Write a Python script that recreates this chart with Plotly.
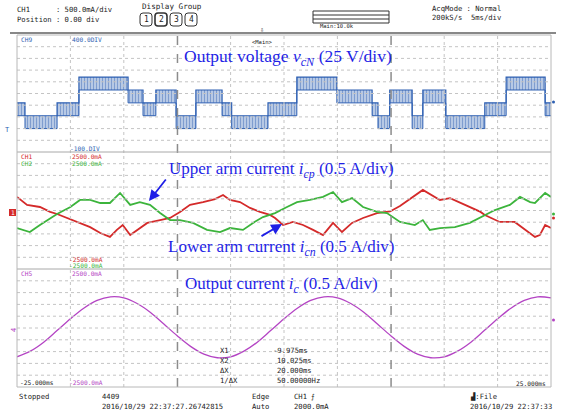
import plotly.graph_objects as go
from plotly.subplots import make_subplots

W, H = 564, 418
L, R, T, B = 17, 551, 35, 387  # plot area in pixels

# ---- Output voltage vcN : PWM bands (time in ms, levels in V) ----
seg_t = [-25.0, -24.25, -21.25, -19.2, -14.6, -13.2, -12.0, -10.1, -8.25, -5.8, -4.9,
         -1.5, 1.2, 4.95, 8.25, 8.8, 9.9, 12.0, 13.0, 15.15, 18.8, 20.8, 24.45, 25.0]
seg_lo = [55, 0, 55, 165, 110, 55, 110, 0, 110, 55, 0, 55, 165, 110, 55, 0, 110, 0, 110, 0, 55, 165, 55]
seg_hi = [110, 55, 110, 220, 165, 110, 165, 55, 165, 110, 55, 110, 220, 165, 110, 55, 165, 55, 165, 55, 110, 220, 110]

# ---- Arm currents (A) ----
icn_t = [-25.0, -24.06, -22.85, -21.9, -21.25, -20.3, -19.4, -18.15, -17.2, -16.3, -15.65, -15.1,
         -14.4, -13.75, -12.8, -11.6, -10.67, -9.74, -8.8, -7.58, -6.46, -5.71, -5.06, -4.12,
         -3.18, -2.25, -1.31, -0.84, -0.09, 0.84, 1.78, 2.72, 3.65, 4.59, 5.43, 6.37, 7.40,
         8.71, 9.93, 10.86, 13.0, 14.6, 15.55, 16.95, 18.4, 18.8, 20.2, 21.6, 22.55, 23.5,
         23.95, 24.45, 25.0]
icn_v = [0.58, 0.24, 0.15, -0.06, -0.15, -0.32, -0.49, -0.71, -0.96, -1.13, -0.83, -0.62,
         -1.05, -0.83, -0.53, -0.41, -0.32, -0.06, 0.24, 0.36, 0.49, 0.66, 0.45, 0.36,
         0.11, -0.06, -0.19, -0.32, -0.62, -0.49, -0.62, -0.83, -1.05, -0.53, -0.92, -0.53, -0.32,
         -0.11, -0.04, 0.19, 0.88, 0.45, 0.53, 0.24, -0.06, -0.19, -0.49, -0.49, -0.83, -1.13,
         -1.05, -0.62, -0.75]

icp_t = [-25.0, -23.8, -22.85, -21.25, -20.0, -19.1, -18.15, -17.2, -16.3, -15.35, -14.4, -13.5,
         -12.55, -11.6, -10.67, -9.74, -8.52, -7.21, -5.99, -5.06, -3.84, -2.9, -1.97, -0.84,
         0.28, 1.22, 2.43, 3.65, 4.59, 5.43, 6.37, 7.40, 8.71, 9.64, 10.86, 12.25, 13.0, 13.65,
         14.6, 16.0, 17.4, 18.8, 19.75, 21.15, 22.1, 23.05, 23.5, 24.45, 25.0]
icp_v = [-0.75, -0.92, -0.62, -0.15, 0.15, 0.45, 0.45, 0.32, 0.32, 0.75, 0.24, 0.36,
         0.24, -0.11, -0.41, -0.41, -0.53, -0.83, -0.92, -0.75, -0.83, -0.53, -0.28, -0.11,
         0.15, 0.36, 0.45, 0.58, 0.79, 0.36, 0.53, 0.15, -0.06, -0.11, -0.49, -0.62, -0.41, -0.83,
         -0.75, -0.71, -0.53, -0.19, 0.02, 0.24, 0.58, 0.36, 0.32, 0.75, 0.58]

# ---- Output current ic (A), sampled every 1.25 ms ----
ic_t = [-25 + 1.25 * k for k in range(41)]
ic_v = [-1.22, -0.98, -0.60, -0.11, 0.39, 0.84, 1.17, 1.32, 1.28, 1.04, 0.66, 0.17, -0.33,
        -0.78, -1.11, -1.26, -1.22, -0.98, -0.60, -0.11, 0.39, 0.84, 1.17, 1.32, 1.28, 1.04,
        0.66, 0.17, -0.33, -0.78, -1.11, -1.26, -1.22, -0.98, -0.60, -0.11, 0.39, 0.84, 1.17,
        1.32, 1.28]

BLUE = "#2d5fb2"
RED = "#d42a2a"
GREEN = "#3cb43c"
PURPLE = "#b444c4"
TXT_BLUE = "#1f1fe6"

fig = make_subplots(rows=3, cols=1, shared_xaxes=True, vertical_spacing=0,
                    row_heights=[117, 117, 118])

# PWM voltage: lower and upper step envelopes with striped fill between them
fig.add_trace(go.Scatter(x=seg_t, y=seg_lo + [seg_lo[-1]], mode="lines", line_shape="hv",
                         line=dict(color=BLUE, width=1), hoverinfo="skip"), row=1, col=1)
fig.add_trace(go.Scatter(x=seg_t, y=seg_hi + [seg_hi[-1]], mode="lines", line_shape="hv",
                         line=dict(color=BLUE, width=1.2), fill="tonexty",
                         fillcolor="rgba(45,95,178,0.22)",
                         fillpattern=dict(shape="|", size=3, solidity=0.55, fgcolor=BLUE,
                                          fillmode="overlay"),
                         hoverinfo="skip"), row=1, col=1)

fig.add_trace(go.Scatter(x=icn_t, y=icn_v, mode="lines", line=dict(color=RED, width=1.8)), row=2, col=1)
fig.add_trace(go.Scatter(x=icp_t, y=icp_v, mode="lines", line=dict(color=GREEN, width=1.8)), row=2, col=1)
fig.add_trace(go.Scatter(x=ic_t, y=ic_v, mode="lines", line_shape="spline",
                         line=dict(color=PURPLE, width=1.3)), row=3, col=1)

for i in (1, 2, 3):
    fig.update_xaxes(range=[-25, 25], showgrid=False, zeroline=False, showticklabels=False,
                     ticks="", showline=False, row=i, col=1)
fig.update_yaxes(range=[-100, 400], row=1, col=1)
fig.update_yaxes(range=[-2.5, 2.5], row=2, col=1)
fig.update_yaxes(range=[-2.5, 2.5], row=3, col=1)
fig.update_yaxes(showgrid=False, zeroline=False, showticklabels=False, ticks="", showline=False)


def px(x):
    return (x - L) / (R - L)


def py(y):
    return (B - y) / (B - T)


shapes = []
GRID = "#c4c4c4"
# dotted vertical grid every 5 ms
for tv in range(-20, 25, 5):
    if tv in (-10, 10):
        continue
    shapes.append(dict(type="line", xref="x", yref="paper", x0=tv, x1=tv, y0=0, y1=1,
                       line=dict(color=GRID, width=1, dash="dot")))
# dotted horizontal grid, ten rows per panel
for ax in ("y", "y2", "y3"):
    for k in range(1, 10):
        shapes.append(dict(type="line", xref="paper", yref=ax + " domain", x0=0, x1=1,
                           y0=k / 10, y1=k / 10, line=dict(color=GRID, width=1, dash="dot")))
# cursors X1 / X2
for tv in (-9.975, 10.025):
    shapes.append(dict(type="line", xref="x", yref="paper", x0=tv, x1=tv, y0=0, y1=1,
                       line=dict(color="#8c8c8c", width=1.5, dash="dash")))
# panel dividers and frame
for ax in ("y2", "y3"):
    shapes.append(dict(type="line", xref="paper", yref=ax + " domain", x0=0, x1=1, y0=1, y1=1,
                       line=dict(color="#a8a8a8", width=1)))
shapes.append(dict(type="rect", xref="paper", yref="paper", x0=0, x1=1, y0=0, y1=1,
                   line=dict(color="#b8b8b8", width=1)))
# header separator
shapes.append(dict(type="line", xref="paper", yref="paper", x0=px(10), x1=px(556),
                   y0=py(33), y1=py(33), line=dict(color="#606060", width=1.5)))


def rbox(x0, y0, x1, y1, r=3, color="#333", width=1):
    path = (f"M {px(x0 + r)} {py(y0)} L {px(x1 - r)} {py(y0)} Q {px(x1)} {py(y0)} {px(x1)} {py(y0 + r)} "
            f"L {px(x1)} {py(y1 - r)} Q {px(x1)} {py(y1)} {px(x1 - r)} {py(y1)} "
            f"L {px(x0 + r)} {py(y1)} Q {px(x0)} {py(y1)} {px(x0)} {py(y1 - r)} "
            f"L {px(x0)} {py(y0 + r)} Q {px(x0)} {py(y0)} {px(x0 + r)} {py(y0)} Z")
    return dict(type="path", xref="paper", yref="paper", path=path, line=dict(color=color, width=width))


# display group buttons
BTN_X = (140, 155, 170, 185)
for i, x0 in enumerate(BTN_X):
    shapes.append(rbox(x0, 13, x0 + 12, 26, r=3, width=1.6 if i == 1 else 1))
# main window indicator
shapes.append(dict(type="rect", xref="paper", yref="paper", x0=px(313), x1=px(389), y0=py(11), y1=py(23),
                   line=dict(color="#333", width=1)))
shapes.append(dict(type="line", xref="paper", yref="paper", x0=px(313), x1=px(389), y0=py(15), y1=py(15),
                   line=dict(color="#333", width=1)))
shapes.append(dict(type="line", xref="paper", yref="paper", x0=px(313), x1=px(389), y0=py(19), y1=py(19),
                   line=dict(color="#333", width=1)))
# channel end dots on the right
for (yy, c) in ((102, BLUE), (214, GREEN), (218, RED), (320, PURPLE)):
    shapes.append(dict(type="circle", xref="paper", yref="paper", x0=px(552), x1=px(555),
                       y0=py(yy - 1.5), y1=py(yy + 1.5), fillcolor=c, line=dict(width=0)))
# ch1 marker on the left
shapes.append(dict(type="rect", xref="paper", yref="paper", x0=px(9), x1=px(16), y0=py(209), y1=py(216),
                   fillcolor=RED, line=dict(width=0)))
fig.update_layout(shapes=shapes)

ann = []
MONO = "DejaVu Sans Mono"
FS = 7.2  # scope readout font size


def text(x, y, s, size=FS, color="#222", anchor="left", font=MONO, **kw):
    ann.append(dict(xref="paper", yref="paper", x=px(x), y=py(y), text=s, showarrow=False,
                    xanchor=anchor, yanchor="middle", font=dict(family=font, size=size, color=color), **kw))


# header
text(15, 10, "CH1      : 500.0mA/div")
text(15, 19, "Position : 0.00 div")
text(172, 6, "Display Group", size=7.6, anchor="center")
for i, x0 in enumerate(BTN_X):
    text(x0 + 6, 19.5, str(i + 1), size=8, anchor="center")
text(318, 26, "Main:10.0k", size=5.5)
text(430, 8, "AcqMode : Normal")
text(430, 17, "200kS/s  5ms/div")
text(262, 29.5, "⇩", size=7, anchor="center")
text(262, 42, "&lt;Main&gt;", size=5.5, anchor="center")

# channel scale labels
SMALL = 6.2
text(19, 40, "CH9", size=SMALL, color=BLUE)
text(70, 40, "400.0DIV", size=SMALL, color=BLUE)
text(68, 148, "-100.DIV", size=SMALL, color=BLUE)
text(19, 156, "CH1", size=SMALL, color=RED)
text(70, 156, "2500.0mA", size=SMALL, color=RED)
text(19, 163, "CH2", size=SMALL, color=GREEN)
text(70, 163, "2500.0mA", size=SMALL, color=GREEN)
text(67, 259, "-2500.0mA", size=SMALL, color=RED)
text(67, 265, "-2500.0mA", size=SMALL, color=GREEN)
text(19, 273, "CH5", size=SMALL, color=PURPLE)
text(70, 273, "2500.0mA", size=SMALL, color=PURPLE)
text(67, 382, "-2500.0mA", size=SMALL, color=PURPLE)
text(18, 382, "-25.000ms", size=SMALL, color="#222")
text(548, 383, "25.000ms", size=SMALL, color="#222", anchor="right")
text(12.5, 212.5, "1", size=SMALL, color="white", anchor="center")
text(7, 130, "T", size=7, color=BLUE, anchor="center")
text(14, 330, "4", size=7, color=PURPLE, anchor="center", textangle=-90)

# cursor readout
for row, (a, b, yy) in enumerate((("X1", "-9.975ms", 350), ("X2", "10.025ms", 360),
                                  ("ΔX", "20.000ms", 370), ("1/ΔX", "50.00000Hz", 380))):
    text(218, yy, a)
    text(271 if row == 0 else 275, yy, b)

# footer
text(17, 396, "Stopped")
text(100, 396, "4409")
text(100, 406, "2016/10/29 22:37:27.26742815")
text(250, 396, "Edge")
text(250, 406, "Auto")
text(292, 396, "CH1 ⨍")
text(292, 406, "2000.0mA")
text(468, 396, "▟:File")
text(468, 406, "2016/10/29 22:37:33")

# trace captions
SERIF = "Liberation Serif"
text(288, 57, "Output voltage <i>v<sub>cN</sub></i> (25 V/div)", size=17.5, color=TXT_BLUE,
     anchor="center", font=SERIF)
text(281, 170, "Upper arm current <i>i<sub>cp</sub></i> (0.5 A/div)", size=17, color=TXT_BLUE,
     anchor="center", font=SERIF)
text(281, 248, "Lower arm current <i>i<sub>cn</sub></i> (0.5 A/div)", size=17, color=TXT_BLUE,
     anchor="center", font=SERIF)
text(281, 285, "Output current <i>i<sub>c</sub></i> (0.5 A/div)", size=17, color=TXT_BLUE,
     anchor="center", font=SERIF)

# pointer arrows (tail given as pixel offset from the head)
ann.append(dict(xref="paper", yref="paper", x=px(149), y=py(201), ax=18, ay=-23,
                showarrow=True, arrowhead=2, arrowsize=1.2,
                arrowwidth=1.8, arrowcolor=TXT_BLUE, text=""))
ann.append(dict(xref="paper", yref="paper", x=px(282), y=py(224), ax=-22, ay=13,
                showarrow=True, arrowhead=2, arrowsize=1.2,
                arrowwidth=1.8, arrowcolor=TXT_BLUE, text=""))

fig.update_layout(annotations=ann, width=W, height=H, showlegend=False,
                  margin=dict(l=L, r=W - R, t=T, b=H - B, pad=0),
                  paper_bgcolor="white", plot_bgcolor="white")

fig.write_html("out.html", config={"displayModeBar": False})
